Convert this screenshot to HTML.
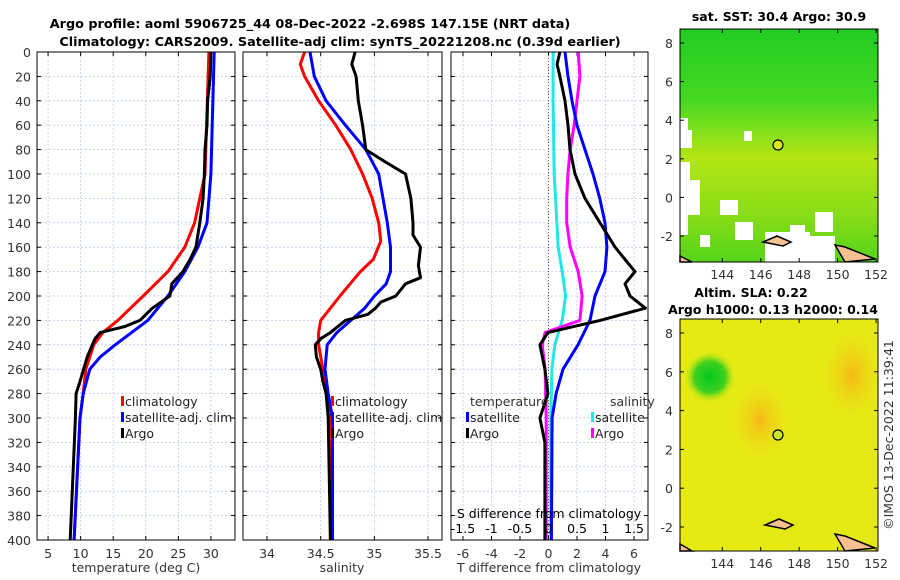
<!DOCTYPE html>
<html><head><meta charset="utf-8">
<style>
body{margin:0;background:#fff;}
svg{display:block;font-family:"DejaVu Sans","Liberation Sans",sans-serif;}
</style></head>
<body>
<svg id="c" width="900" height="580" viewBox="0 0 900 580">
<defs>
<radialGradient id="g1" cx="0.5" cy="0.5" r="0.5"><stop offset="0" stop-color="#00c81e"/><stop offset="0.6" stop-color="#40d020"/><stop offset="1" stop-color="#c8e810" stop-opacity="0"/></radialGradient>
<radialGradient id="g2" cx="0.5" cy="0.5" r="0.5"><stop offset="0" stop-color="#f5b818"/><stop offset="1" stop-color="#f0d818" stop-opacity="0"/></radialGradient>
<linearGradient id="sstg" x1="0" y1="0" x2="0" y2="1"><stop offset="0" stop-color="#22cc22"/><stop offset="0.3" stop-color="#44d822"/><stop offset="0.55" stop-color="#b4e614"/><stop offset="0.8" stop-color="#88dc18"/><stop offset="1" stop-color="#55d41c"/></linearGradient>
</defs>
</svg>
<script>
// ---- data ----
const depthsT=[0,100,140,160,180,200,220,230,240,260,280,300,400];
const tempClim=[29.7,29.1,27.5,26,23.4,19.6,15.7,13.4,12,10.8,10.4,9.9,9.0];
const depthsTS=[0,100,140,160,180,200,220,240,250,260,280,300,400];
const tempSat=[30.5,30,29.4,28,26,23.4,20.3,15.3,13,11.4,10.4,9.9,9.0];
const depthsTA=[0,20,40,60,80,100,120,140,160,170,180,190,200,210,220,225,230,235,250,270,280,300,400];
const tempArgo=[30,29.9,29.5,29.4,29.1,29,28.8,28.3,27.7,26.8,25.7,24,23.7,21,19.1,16.8,13,12.2,11,9.9,9.3,9.2,8.4];
const depthsS=[0,10,20,40,60,80,100,120,140,155,170,180,200,220,230,240,260,280,300,400];
const salClim=[34.35,34.31,34.35,34.48,34.64,34.78,34.89,34.98,35.04,35.06,34.99,34.87,34.68,34.5,34.48,34.48,34.52,34.56,34.59,34.59];
const depthsSS=[0,20,40,60,80,100,120,140,160,180,190,200,210,220,230,240,260,280,300,400];
const salSat=[34.4,34.44,34.55,34.73,34.92,35.04,35.08,35.12,35.15,35.15,35.11,35.0,34.91,34.78,34.65,34.56,34.54,34.57,34.61,34.61];
const depthsSA=[0,10,20,40,60,80,90,100,120,140,150,160,175,185,190,200,205,210,215,220,230,235,240,250,260,270,280,300,400];
const salArgo=[34.82,34.79,34.83,34.85,34.89,34.92,35.1,35.29,35.34,35.36,35.36,35.43,35.41,35.43,35.29,35.2,35.06,35.01,34.94,34.73,34.59,34.5,34.45,34.46,34.5,34.52,34.55,34.57,34.59];
const depthsD=[0,20,40,60,80,100,120,140,160,180,200,220,240,260,280,300,400];
const dTsat=[1.16,1.37,1.65,2.0,2.56,3.12,3.6,3.96,4.1,3.96,3.26,2.91,2.07,1.02,0.53,0.25,0.2];
const depthsDA=[0,10,20,40,60,80,100,120,140,160,170,180,190,200,210,220,230,240,260,280,300,320,400];
const dTargo=[0.8,0.6,0.8,1.16,1.37,1.51,1.86,2.56,3.61,4.67,5.37,6.07,5.37,5.72,6.8,3.61,-0.04,-0.6,-0.25,-0.04,-0.6,-0.25,-0.25];
const depthsDS=[0,40,100,160,180,200,220,240,260,300,400];
const dSsat=[0.08,0.08,0.1,0.17,0.24,0.3,0.24,0.11,0.06,0.04,0.04];
const depthsDSA=[0,20,40,60,80,100,120,140,160,180,200,220,230,240,260,300,400];
const dSargo=[0.52,0.55,0.5,0.45,0.38,0.34,0.32,0.32,0.38,0.52,0.59,0.55,-0.06,-0.11,-0.06,-0.04,-0.04];
const depthTicks=[0,20,40,60,80,100,120,140,160,180,200,220,240,260,280,300,320,340,360,380,400];
const tTicks=[5,10,15,20,25,30];
const sTicks=["34","34.5","35","35.5"];
const dTTicks=[-6,-4,-2,0,2,4,6];
const dSTicks=["-1.5","-1","-0.5","0","0.5","1","1.5"];
const lonTicks=[144,146,148,150,152];
const latTicks=[8,6,4,2,0,-2];

const NS="http://www.w3.org/2000/svg";
const svg=document.getElementById('c');
function el(tag,attrs,parent,txt){const e=document.createElementNS(NS,tag);for(const k in attrs)e.setAttribute(k,attrs[k]);if(txt!==undefined)e.textContent=txt;(parent||svg).appendChild(e);return e;}

const Y0=52,Y1=540;
const yD=d=>Y0+(d/400)*(Y1-Y0);
const panels=[{x0:37,x1:235,lo:3.3,hi:33.7},{x0:243,x1:442,lo:33.776,hi:35.63},{x0:451,x1:648,lo:-6.84,hi:6.98}];
const sc=(p,v)=>p.x0+(v-p.lo)/(p.hi-p.lo)*(p.x1-p.x0);
const sS=v=>sc(panels[2],v*4);

function grid(p,vals,gname){
  const g=el('g',{});
  
  
  vals.forEach(v=>{const x=sc(p,v);el('line',{x1:x,x2:x,y1:Y0,y2:Y1,stroke:'#b8c8ec','stroke-width':0.8,'stroke-dasharray':'2,2'},g);});
  depthTicks.forEach(d=>{const y=yD(d);el('line',{x1:p.x0,x2:p.x1,y1:y,y2:y,stroke:'#b8c8ec','stroke-width':0.8,'stroke-dasharray':'2,2'},g);
    el('line',{x1:p.x0,x2:p.x0+4,y1:y,y2:y,stroke:'#000'},g);el('line',{x1:p.x1-4,x2:p.x1,y1:y,y2:y,stroke:'#000'},g);});
  vals.forEach(v=>{const x=sc(p,v);el('line',{x1:x,x2:x,y1:Y1,y2:Y1-4,stroke:'#000'},g);el('line',{x1:x,x2:x,y1:Y0,y2:Y0+4,stroke:'#000'},g);});
}
function line(p,xs,ds,color,name,f){
  const pts=xs.map((v,i)=>(f?f(v):sc(p,v)).toFixed(1)+','+yD(ds[i]).toFixed(1)).join(' ');
  const l=el('polyline',{points:pts,fill:'none',stroke:color,'stroke-width':3,'stroke-linejoin':'round'});
  
  
}
function frame(p,name){const r=el('rect',{x:p.x0,y:Y0,width:p.x1-p.x0,height:Y1-Y0,fill:'none',stroke:'#000','stroke-width':1});
  }
function txt(x,y,s,opts,name){const t=el('text',Object.assign({x:x,y:y,'font-size':12.5,fill:'#333'},opts||{}),svg,s);return t;}

txt(310,28,'Argo profile: aoml 5906725_44 08-Dec-2022 -2.698S 147.15E (NRT data)',{'text-anchor':'middle','font-weight':'bold','font-size':12.8,fill:'#000'},'title-line-1');
txt(340,46,'Climatology: CARS2009. Satellite-adj clim: synTS_20221208.nc (0.39d earlier)',{'text-anchor':'middle','font-weight':'bold','font-size':12.8,fill:'#000'},'title-line-2');

grid(panels[0],tTicks,'temperature-grid');
line(panels[0],tempClim,depthsT,'#f00','climatology-temp-line');
line(panels[0],tempSat,depthsTS,'#00f','satellite-temp-line');
line(panels[0],tempArgo,depthsTA,'#000','argo-temp-line');
frame(panels[0],'temperature-panel');
depthTicks.forEach(d=>txt(31,yD(d)+5,String(d),{'text-anchor':'end'},'depth-tick-label'));
tTicks.forEach(v=>txt(sc(panels[0],v),558,String(v),{'text-anchor':'middle'},'temp-tick-label'));
txt(136,572,'temperature (deg C)',{'text-anchor':'middle'},'temperature-axis-title');

grid(panels[1],sTicks.map(Number),'salinity-grid');
line(panels[1],salClim,depthsS,'#f00','climatology-sal-line');
line(panels[1],salSat,depthsSS,'#00f','satellite-sal-line');
line(panels[1],salArgo,depthsSA,'#000','argo-sal-line');
frame(panels[1],'salinity-panel');
sTicks.forEach(v=>txt(sc(panels[1],Number(v)),558,v,{'text-anchor':'middle'},'sal-tick-label'));
txt(342,572,'salinity',{'text-anchor':'middle'},'salinity-axis-title');

grid(panels[2],dTTicks,'difference-grid');
el('line',{x1:sc(panels[2],0),x2:sc(panels[2],0),y1:Y0,y2:Y1,stroke:'#555','stroke-dasharray':'1,2'});
line(panels[2],dSsat,depthsDS,'#20e8e8','sal-diff-satellite-line',sS);
line(panels[2],dSargo,depthsDSA,'#f0f','sal-diff-argo-line',sS);
line(panels[2],dTsat,depthsD,'#00f','temp-diff-satellite-line');
line(panels[2],dTargo,depthsDA,'#000','temp-diff-argo-line');
frame(panels[2],'difference-panel');
dTTicks.forEach(v=>txt(sc(panels[2],v),558,String(v),{'text-anchor':'middle'},'dt-tick-label'));
txt(549,572,'T difference from climatology',{'text-anchor':'middle'},'dt-axis-title');
dSTicks.forEach(v=>txt(sS(Number(v)),533,v,{'text-anchor':'middle',fill:'#000'},'ds-tick-label'));
txt(549,518,'S difference from climatology',{'text-anchor':'middle',fill:'#000'},'ds-axis-title');

function leg(x,y,color,label,name){const g=el('g',{});
  el('rect',{x:x,y:y-10,width:3,height:10,fill:color},g);el('text',{x:x+4,y:y,'font-size':12.5,fill:'#222'},g,label);}
leg(121,406,'#f00','climatology','legend-climatology-1');
leg(121,422,'#00f','satellite-adj. clim','legend-satellite-1');
leg(121,438,'#000','Argo','legend-argo-1');
leg(331,406,'#f00','climatology','legend-climatology-2');
leg(331,422,'#00f','satellite-adj. clim','legend-satellite-2');
leg(331,438,'#000','Argo','legend-argo-2');
txt(470,406,'temperature',{},'legend-temperature-heading');
txt(610,406,'salinity',{},'legend-salinity-heading');
leg(466,422,'#00f','satellite','legend-temp-satellite');
leg(466,438,'#000','Argo','legend-temp-argo');
leg(591,422,'#20e8e8','satellite','legend-sal-satellite');
leg(591,438,'#f0f','Argo','legend-sal-argo');

function mapAxes(x0,y0,x1,y1,lat8,latM2,name){
  const lx=l=>680+(l-141.8)/(152.1-141.8)*(878-680);
  const ly=v=>lat8+(8-v)*(latM2-lat8)/10;
  lonTicks.forEach(l=>{const x=lx(l);el('line',{x1:x,x2:x,y1:y1,y2:y1-4,stroke:'#000'});el('line',{x1:x,x2:x,y1:y0,y2:y0+4,stroke:'#000'});
    txt(x,y1+17,String(l),{'text-anchor':'middle'},name+'-lon-label');});
  latTicks.forEach(v=>{const y=ly(v);el('line',{x1:x0,x2:x0+4,y1:y,y2:y,stroke:'#000'});el('line',{x1:x1-4,x2:x1,y1:y,y2:y,stroke:'#000'});
    txt(x0-7,y+5,String(v),{'text-anchor':'end'},name+'-lat-label');});
  const r=el('rect',{x:x0,y:y0,width:x1-x0,height:y1-y0,fill:'none',stroke:'#000'});
  
}
const m1=el('g',{});
el('rect',{x:680,y:29,width:198,height:233,fill:'url(#sstg)'},m1);
[[680,118,8,30],[680,130,12,18],[744,131,8,10],[680,162,10,22],[680,180,20,35],[720,200,18,15],[680,215,8,20],[765,232,45,30],[790,225,15,37],[805,236,30,26],[815,212,18,20],[735,222,18,18],[700,235,10,12]].forEach(r=>el('rect',{x:r[0],y:r[1],width:r[2],height:r[3],fill:'#fff'},m1));
el('path',{d:'M763,242 l14,-6 l14,6 l-8,4 z',fill:'#f6c090',stroke:'#000','stroke-width':1.5},m1);
el('path',{d:'M835,245 l10,2 l30,12 l-30,3 z',fill:'#f6c090',stroke:'#000','stroke-width':1.5},m1);
el('path',{d:'M680,256 l12,6 l-12,0 z',fill:'#f6c090',stroke:'#000','stroke-width':1.5},m1);
el('circle',{cx:778,cy:145,r:5,fill:'#d8e810',stroke:'#000','stroke-width':1.2},m1);
txt(779,21,'sat. SST: 30.4 Argo: 30.9',{'text-anchor':'middle','font-weight':'bold',fill:'#000'},'sst-map-title');
mapAxes(680,29,878,262,43,236,'sst-map');
const m2=el('g',{});
el('rect',{x:680,y:319,width:198,height:232,fill:'#e6ea14'},m2);
el('ellipse',{cx:760,cy:420,rx:30,ry:40,fill:'url(#g2)'},m2);
el('ellipse',{cx:852,cy:375,rx:30,ry:45,fill:'url(#g2)'},m2);
el('ellipse',{cx:710,cy:377,rx:26,ry:26,fill:'url(#g1)'},m2);
el('path',{d:'M765,525 l14,-6 l14,6 l-8,4 z',fill:'#f6c090',stroke:'#000','stroke-width':1.5},m2);
el('path',{d:'M835,534 l10,2 l30,12 l-30,3 z',fill:'#f6c090',stroke:'#000','stroke-width':1.5},m2);
el('path',{d:'M680,544 l12,7 l-12,0 z',fill:'#f6c090',stroke:'#000','stroke-width':1.5},m2);
el('circle',{cx:778,cy:435,r:5,fill:'#c8e820',stroke:'#000','stroke-width':1.2},m2);
txt(751,297,'Altim. SLA: 0.22',{'text-anchor':'middle','font-weight':'bold',fill:'#000'},'sla-map-title-1');
txt(773,314,'Argo h1000: 0.13 h2000: 0.14',{'text-anchor':'middle','font-weight':'bold',fill:'#000'},'sla-map-title-2');
mapAxes(680,319,878,551,333,527,'sla-map');
txt(0,0,'©IMOS 13-Dec-2022 11:39:41',{'text-anchor':'middle',transform:'translate(893,435) rotate(-90)'},'copyright-stamp');
</script>
</body></html>
